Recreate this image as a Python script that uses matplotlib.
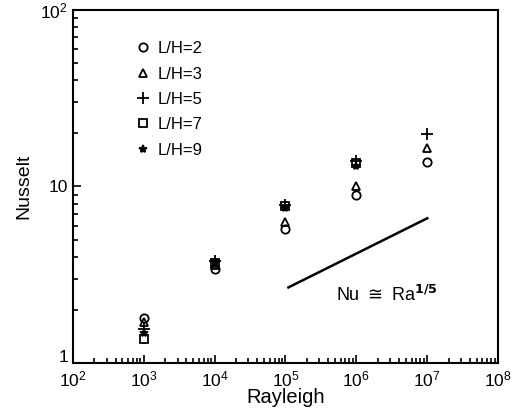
import numpy as np
import matplotlib
matplotlib.use("Agg")
import matplotlib.pyplot as plt
import matplotlib.transforms as mtransforms
from matplotlib.ticker import LogLocator, NullFormatter

plt.rcParams['font.family'] = ['Liberation Sans', 'DejaVu Sans']

# data
rayleigh = [1e3, 1e4, 1e5, 1e6, 1e7]
nu_lh2 = [1.80, 3.40, 5.75, 8.9, 13.8]
nu_lh3 = [1.70, 3.60, 6.30, 10.1, 16.5]
nu_lh5 = [1.55, 3.80, 7.90, 14.0, 19.8]
nu_lh7 = [1.36, 3.70, 7.80, 13.6]
nu_lh9 = [1.48, 3.75, 7.60, 13.0]

fit_ra = [1.1e5, 1e7]
fit_coef = 0.263
fit_exp = 0.2

fig = plt.figure(figsize=(5.13, 4.13), dpi=100)
ax = fig.add_axes([0.142, 0.121, 0.829, 0.855])

mk = dict(color='black', linestyle='none', markersize=6, markeredgewidth=1.3)
ax.plot(rayleigh, nu_lh2, marker='o', mfc='none', label='L/H=2', **mk)
ax.plot(rayleigh, nu_lh3, marker='^', mfc='none', label='L/H=3', **mk)
ax.plot(rayleigh, nu_lh5, marker='+', markersize=8, color='black', linestyle='none',
        markeredgewidth=1.3, label='L/H=5')
ax.plot(rayleigh[:4], nu_lh7, marker='s', mfc='none', label='L/H=7', **mk)
ax.plot(rayleigh[:4], nu_lh9, marker='*', mfc='black', label='L/H=9', **mk)

fit_x = np.array(fit_ra)
ax.plot(fit_x, fit_coef * fit_x ** fit_exp, color='black', lw=1.8)
ax.text(5.2e5, 2.25, r'Nu $\cong$ Ra$^{\mathbf{1/5}}$', fontsize=13)

ax.set_xscale('log')
ax.set_yscale('log')
ax.set_xlim(1e2, 1e8)
ax.set_ylim(1, 100)
ax.set_xticks([1e2, 1e3, 1e4, 1e5, 1e6, 1e7, 1e8])
ax.set_yticks([1, 10, 100])
ax.set_yticklabels(['1', '10', r'$\mathregular{10^2}$'])
ax.xaxis.set_minor_locator(LogLocator(base=10, subs=np.arange(2, 10)))
ax.yaxis.set_minor_locator(LogLocator(base=10, subs=np.arange(2, 10)))
ax.xaxis.set_minor_formatter(NullFormatter())
ax.yaxis.set_minor_formatter(NullFormatter())
ax.tick_params(which='both', direction='in', top=False, right=False, labelsize=12.5, width=1.2)
ax.tick_params(which='major', length=6)
ax.tick_params(which='minor', length=3.5)
ax.tick_params(axis='x', pad=5)
for s in ax.spines.values():
    s.set_linewidth(1.5)

# lift the "1" label a little so it clears the 10^2 label below it
lbl_one = ax.get_yticklabels()[0]
lbl_one.set_transform(lbl_one.get_transform() +
                      mtransforms.ScaledTranslation(0, 5 / 72, fig.dpi_scale_trans))

ax.set_xlabel('Rayleigh', fontsize=14.5, labelpad=-1)
ax.set_ylabel('Nusselt', fontsize=14, labelpad=6)

ax.legend(loc='upper left', bbox_to_anchor=(0.125, 0.935), frameon=False, fontsize=12,
          handletextpad=0.4, labelspacing=0.62, handlelength=1.0, borderpad=0)

fig.savefig('out.png', dpi=100)
